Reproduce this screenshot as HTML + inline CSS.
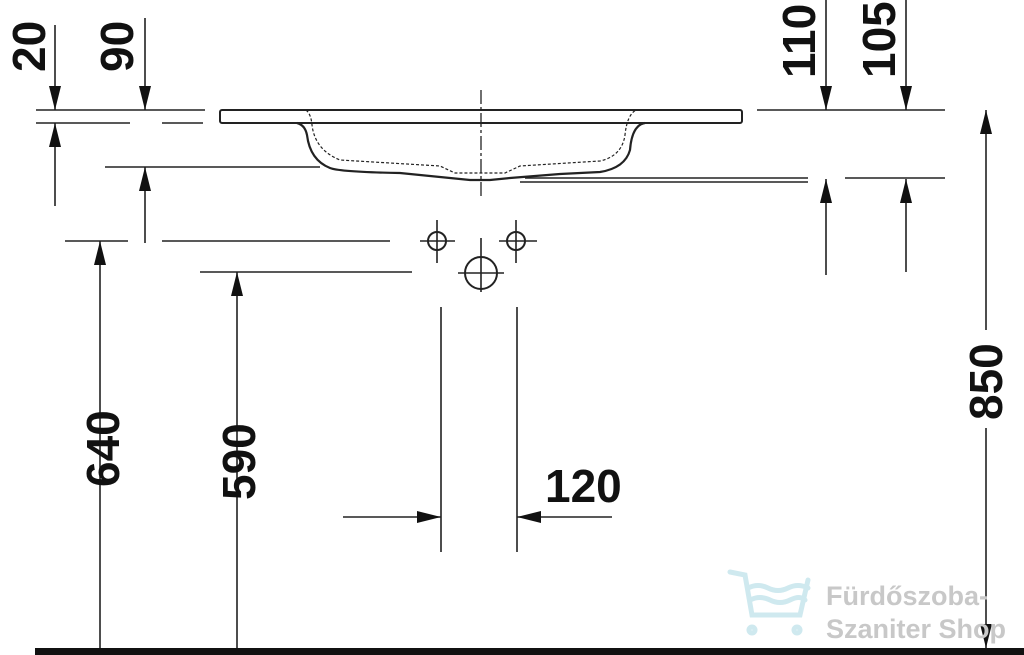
<!DOCTYPE html>
<html><head><meta charset="utf-8"><style>
html,body{margin:0;padding:0;background:#fff;width:1024px;height:655px;overflow:hidden}
text{font-family:"Liberation Sans",sans-serif;font-weight:bold;font-size:46px;fill:#111}
</style></head><body>
<svg width="1024" height="655" viewBox="0 0 1024 655" xmlns="http://www.w3.org/2000/svg">
<defs>
<marker id="a" viewBox="0 0 24 14" refX="24" refY="7" markerWidth="24" markerHeight="14" markerUnits="userSpaceOnUse" orient="auto"><path d="M0,1 L24,7 L0,13z" fill="#111"/></marker>
</defs>
<g stroke="#222" stroke-width="1.6" fill="none">
<line x1="36" y1="110" x2="205" y2="110"/>
<line x1="36" y1="123" x2="130" y2="123"/>
<line x1="162" y1="123" x2="203" y2="123"/>
<line x1="105" y1="167" x2="320" y2="167"/>
<line x1="65" y1="241" x2="128" y2="241"/>
<line x1="162" y1="241" x2="390" y2="241"/>
<line x1="200" y1="272" x2="412" y2="272"/>
<line x1="55" y1="25" x2="55" y2="110" marker-end="url(#a)"/>
<line x1="145" y1="18" x2="145" y2="110" marker-end="url(#a)"/>
<line x1="55" y1="206" x2="55" y2="123" marker-end="url(#a)"/>
<line x1="145" y1="243" x2="145" y2="167" marker-end="url(#a)"/>
<line x1="100" y1="648" x2="100" y2="241" marker-end="url(#a)"/>
<line x1="237" y1="648" x2="237" y2="272" marker-end="url(#a)"/>
<line x1="757" y1="110" x2="945" y2="110"/>
<line x1="826" y1="0" x2="826" y2="110" marker-end="url(#a)"/>
<line x1="906" y1="0" x2="906" y2="110" marker-end="url(#a)"/>
<line x1="525" y1="178" x2="808" y2="178"/>
<line x1="520" y1="182" x2="808" y2="182"/>
<line x1="845" y1="178" x2="945" y2="178"/>
<line x1="826" y1="275" x2="826" y2="179" marker-end="url(#a)"/>
<line x1="906" y1="272" x2="906" y2="179" marker-end="url(#a)"/>
<line x1="986" y1="330" x2="986" y2="110" marker-end="url(#a)"/>
<line x1="986" y1="428" x2="986" y2="648" marker-end="url(#a)"/>
<line x1="441" y1="307" x2="441" y2="552"/>
<line x1="517" y1="307" x2="517" y2="552"/>
<line x1="343" y1="517" x2="441" y2="517" marker-end="url(#a)"/>
<line x1="612" y1="517" x2="517" y2="517" marker-end="url(#a)"/>
<rect x="220" y="110" width="522" height="13" rx="2" stroke-width="2"/>
<path d="M297,123 Q305,125 307,135 Q310,160 330,168 Q340,172 400,173 L450,178 L470,180 L490,180 L510,178 L560,174 L600,172 Q625,168 630,150 Q632,125 645,123" stroke-width="2.2"/>
<path d="M306,110 Q311,114 312,125 Q315,150 340,160 L440,166 L455,173 L505,173 L520,166 L600,161 Q622,156 625,135 Q627,115 636,110" stroke-dasharray="3,2" stroke-width="1.2"/>
<line x1="481" y1="90" x2="481" y2="197" stroke-dasharray="14,3,3,3" stroke-width="1.3"/>
<circle cx="437" cy="241" r="9" stroke-width="2"/>
<circle cx="516" cy="241" r="9" stroke-width="2"/>
<circle cx="481" cy="273" r="16" stroke-width="2"/>
<line x1="420" y1="241" x2="455" y2="241"/><line x1="437" y1="220" x2="437" y2="263"/>
<line x1="499" y1="241" x2="537" y2="241"/><line x1="516" y1="220" x2="516" y2="263"/>
<line x1="458" y1="273" x2="504" y2="273"/><line x1="481" y1="238" x2="481" y2="292"/>
</g>
<rect x="35" y="648" width="989" height="7" fill="#111"/>
<g stroke="#cfe9ef" stroke-width="5" fill="none" stroke-linecap="round">
<path d="M730,572 L745,575 L752,615 L800,615 L808,580"/>
<path d="M748,588 q10,-5 20,0 t20,0 t20,0"/><path d="M750,600 q10,-5 20,0 t20,0 t15,0"/>
<circle cx="752" cy="630" r="3"/><circle cx="797" cy="630" r="3"/>
</g>
<text x="826" y="605" style="font-size:27px;fill:#c8c8c8">Fürdőszoba-</text>
<text x="826" y="638" style="font-size:27px;fill:#c8c8c8">Szaniter Shop</text>
<text transform="translate(45,72) rotate(-90)">20</text>
<text transform="translate(133,72) rotate(-90)">90</text>
<text transform="translate(815,78) rotate(-90)">110</text>
<text transform="translate(895,78) rotate(-90)">105</text>
<text transform="translate(1002,420) rotate(-90)">850</text>
<text transform="translate(119,487) rotate(-90)">640</text>
<text transform="translate(255,500) rotate(-90)">590</text>
<text x="545" y="502">120</text>
</svg>
</body></html>
